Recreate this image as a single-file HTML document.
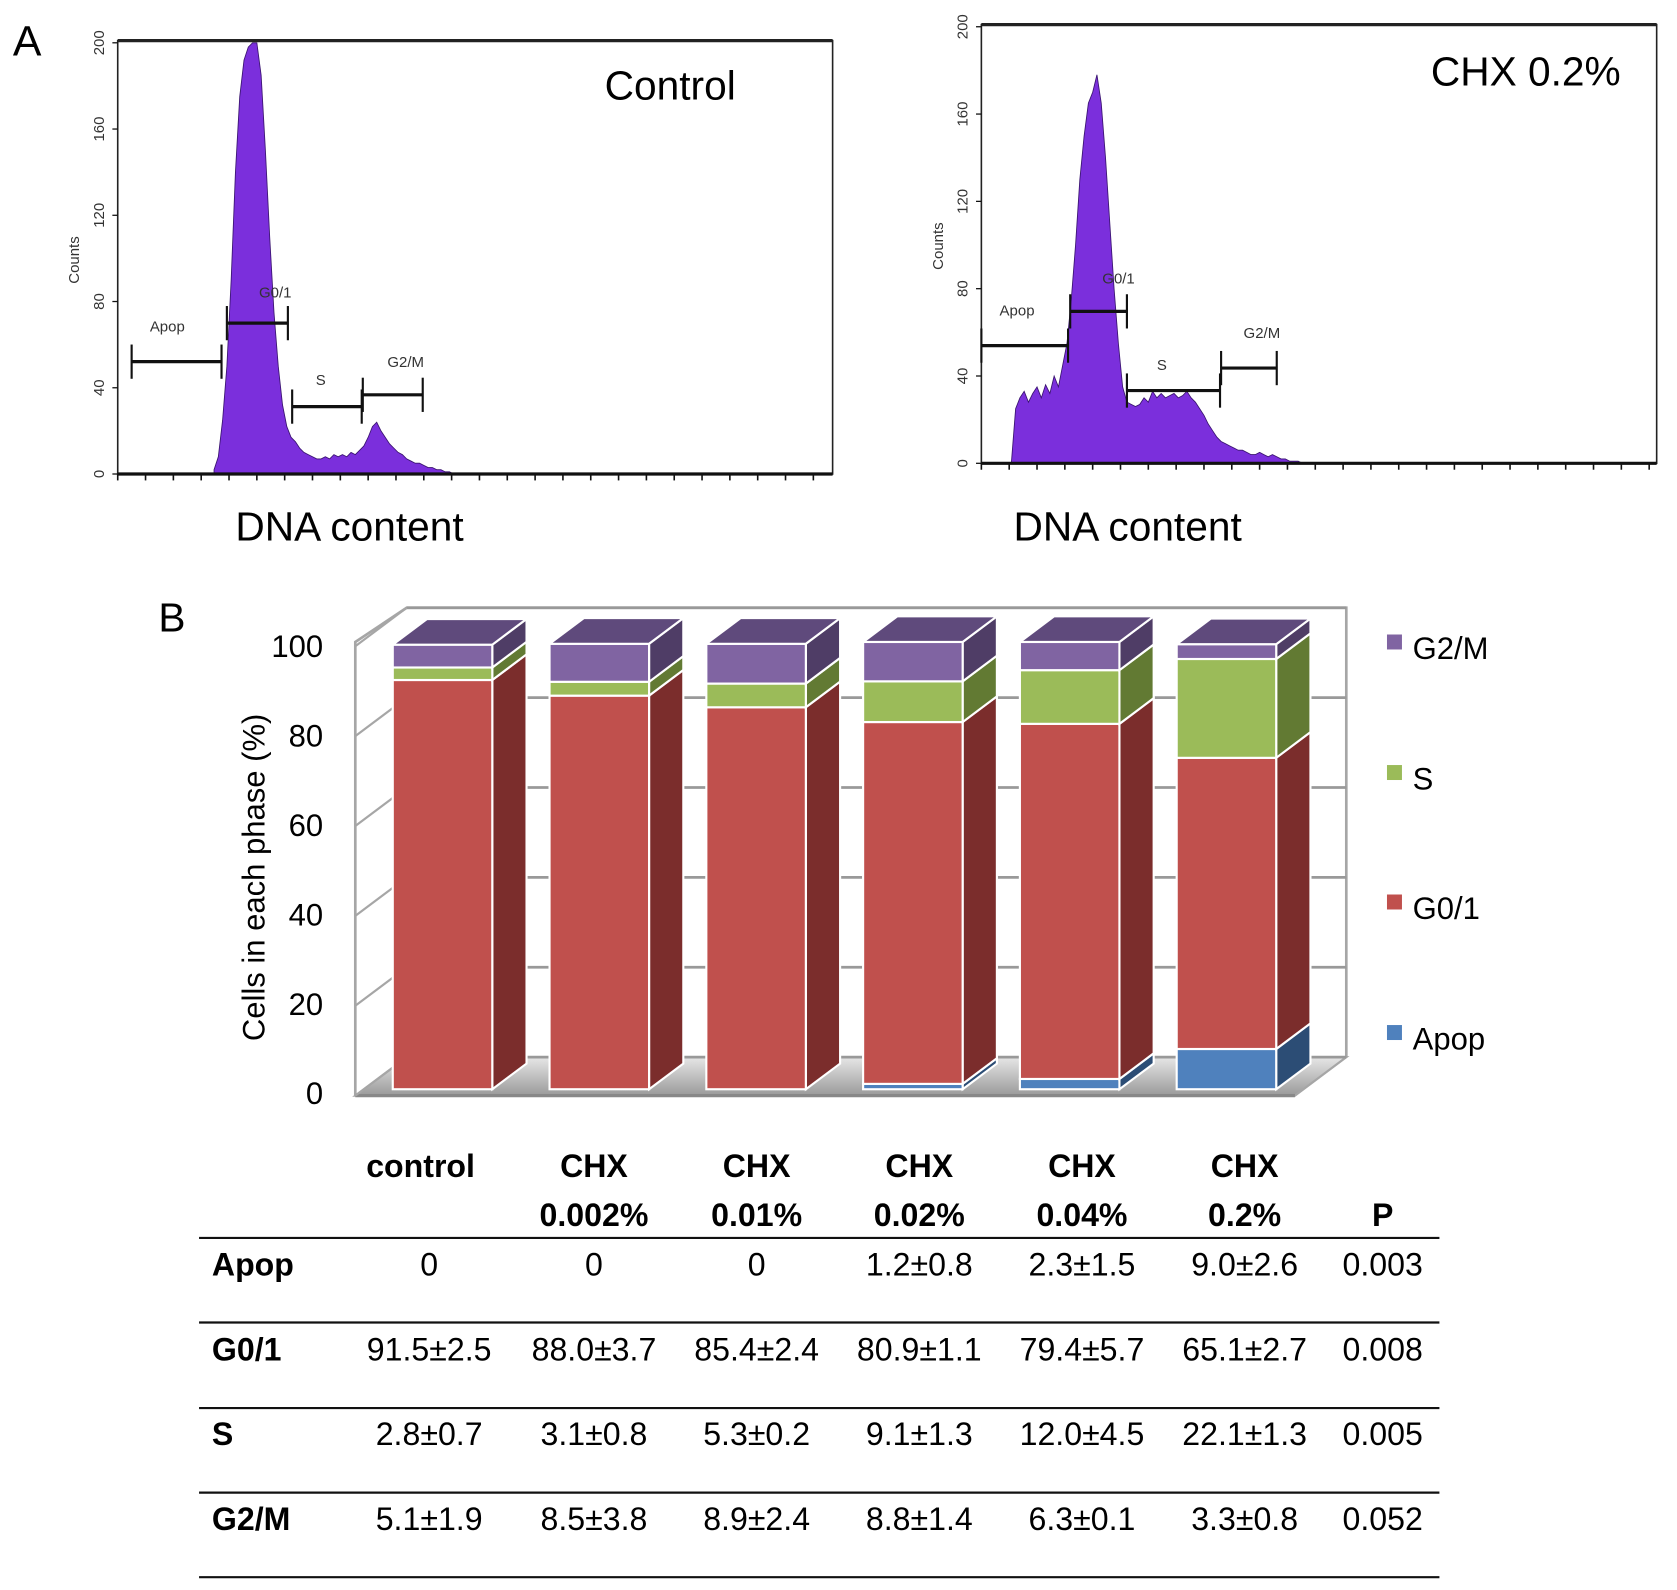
<!DOCTYPE html>
<html><head><meta charset="utf-8"><style>
html,body{margin:0;padding:0;background:#fff}
svg{display:block}
text{font-family:"Liberation Sans Narrow","Liberation Sans",sans-serif}
.ax{font-family:"Liberation Sans",sans-serif;font-size:14px;fill:#333}
</style></head><body>
<svg id="fig" width="1677" height="1590" viewBox="0 0 1567 1486" preserveAspectRatio="none">
<g id="panelA">
<text x="12" y="52" font-size="40" font-family="Liberation Sans">A</text>
</g>
<g id="panelB">
<text x="148" y="590" font-size="38" font-family="Liberation Sans">B</text>
</g>
<g id="table"></g>
</svg>
<script>
// ---- Histogram data (counts) ----
const ctrlCounts=[2,8,25,50,90,140,175,192,198,200,200,185,150,110,75,50,32,22,17,15,12,10,9,8,7,7,8,7,9,8,9,8,10,9,11,13,17,22,24,20,17,14,12,10,9,7,6,5,5,4,3,3,2,2,1,1,0];
const chxCounts=[0,25,30,33,28,32,35,30,36,32,40,35,45,55,75,100,130,150,165,170,178,165,140,110,80,55,35,28,27,26,27,30,28,33,30,32,30,31,32,30,31,33,30,28,25,22,18,15,12,10,9,8,7,6,6,5,4,4,5,4,3,4,3,2,2,1,1,1,0];
const yTicksA=[0,40,80,120,160,200];
// ---- Bar chart data ----
const groups=["control","CHX 0.002%","CHX 0.01%","CHX 0.02%","CHX 0.04%","CHX 0.2%"];
const apop=[0,0,0,1.2,2.3,9.0];
const g01=[91.5,88.0,85.4,80.9,79.4,65.1];
const sPh=[2.8,3.1,5.3,9.1,12.0,22.1];
const g2m=[5.1,8.5,8.9,8.8,6.3,3.3];
const yTicksB=[0,20,40,60,80,100];
// ---- Table text ----
const rowNames=["Apop","G0/1","S","G2/M"];
const apopTxt=["0","0","0","1.2±0.8","2.3±1.5","9.0±2.6","0.003"];
const g01Txt=["91.5±2.5","88.0±3.7","85.4±2.4","80.9±1.1","79.4±5.7","65.1±2.7","0.008"];
const sTxt=["2.8±0.7","3.1±0.8","5.3±0.2","9.1±1.3","12.0±4.5","22.1±1.3","0.005"];
const g2mTxt=["5.1±1.9","8.5±3.8","8.9±2.4","8.8±1.4","6.3±0.1","3.3±0.8","0.052"];

const NS="http://www.w3.org/2000/svg";
function mk(tag,attrs,parent){const e=document.createElementNS(NS,tag);for(const k in attrs)e.setAttribute(k,attrs[k]);parent.appendChild(e);return e;}
const A=document.getElementById('panelA');

function histo(cfg,counts){
  const g=mk('g',{},A);
  
  
  const y=v=>cfg.y0-(v/200)*(cfg.y0-cfg.y200);
  const x=i=>cfg.hx0+i*4;
  const frame=mk('rect',{x:cfg.bx0,y:cfg.by0,width:cfg.bx1-cfg.bx0,height:cfg.y0-cfg.by0,fill:'none',stroke:'#222','stroke-width':1.5},g);
  
  
  mk('line',{x1:cfg.bx0,y1:cfg.by0,x2:cfg.bx1,y2:cfg.by0,stroke:'#222','stroke-width':3},g);
  let d=`M${x(0)},${cfg.y0}`;
  counts.forEach((c,i)=>{d+=` L${x(i)},${y(c)}`;});
  d+=` L${x(counts.length-1)},${cfg.y0} Z`;
  const p=mk('path',{d:d,fill:'#7b2fdc',stroke:'#3a1470','stroke-width':0.8},g);
  
  
  mk('line',{x1:cfg.bx0,y1:cfg.y0,x2:cfg.bx1,y2:cfg.y0,stroke:'#111','stroke-width':3},g);
  for(let tx=cfg.bx0;tx<=cfg.bx1;tx+=26){mk('line',{x1:tx,y1:cfg.y0,x2:tx,y2:cfg.y0+6,stroke:'#111','stroke-width':1.5},g);}
  yTicksA.forEach(t=>{
    mk('line',{x1:cfg.bx0-5,y1:y(t),x2:cfg.bx0,y2:y(t),stroke:'#111','stroke-width':1.2},g);
    const tt=mk('text',{x:0,y:0,class:'ax','text-anchor':'middle',transform:`translate(${cfg.bx0-13},${y(t)}) rotate(-90)`},g);
    tt.textContent=t;
    
    
  });
  const cl=mk('text',{x:0,y:0,class:'ax','text-anchor':'middle',transform:`translate(${cfg.bx0-36},${cfg.countsY}) rotate(-90)`},g);
  cl.textContent='Counts';
  
  
  cfg.gates.forEach(gt=>{
    mk('line',{x1:gt[0],y1:gt[2],x2:gt[1],y2:gt[2],stroke:'#111','stroke-width':3},g);
    mk('line',{x1:gt[0],y1:gt[2]-16,x2:gt[0],y2:gt[2]+16,stroke:'#111','stroke-width':2},g);
    mk('line',{x1:gt[1],y1:gt[2]-16,x2:gt[1],y2:gt[2]+16,stroke:'#111','stroke-width':2},g);
    const l=mk('text',{x:gt[3],y:gt[4],class:'ax','font-size':16},g);
    l.textContent=gt[5];
    
    
  });
  const ti=mk('text',{x:cfg.tx,y:cfg.ty,'font-size':38,fill:'#000'},g);
  ti.textContent=cfg.title;
  
  
  const xl=mk('text',{x:cfg.xlx,y:505,'font-size':38,fill:'#000'},g);
  xl.textContent='DNA content';
  
  
}
histo({name:'control-histogram',bx0:110,bx1:778,by0:38,y0:443,y200:40,hx0:200,countsY:243,
  gates:[[123,207,338,140,310,'Apop'],[212,269,302,242,278,'G0/1'],[273,338,380,295,360,'S'],[339,395,369,362,343,'G2/M']],
  title:'Control',tx:565,ty:93,xlx:220},ctrlCounts);
histo({name:'chx-histogram',bx0:917,bx1:1548,by0:23,y0:433,y200:25,hx0:945,countsY:230,
  gates:[[917,998,323,934,295,'Apop'],[1000,1053,291,1030,265,'G0/1'],[1053,1140,365,1081,346,'S'],[1141,1193,344,1162,316,'G2/M']],
  title:'CHX 0.2%',tx:1337,ty:80,xlx:947},chxCounts);

// ---- 3D stacked bar chart ----
const B=document.getElementById('panelB');
const fy0=1018,fy100=600,dx=32,dy=-24;
const yf=v=>fy0-(v/100)*(fy0-fy100);
const bx=i=>367+i*146.5, bw=93;
const wall=mk('path',{d:`M332,1024 L332,600 L380,568 L1258,568 L1258,988`,fill:'none',stroke:'#a6a6a6','stroke-width':2.5},B);


const floorG=mk('linearGradient',{id:'fl',x1:0,y1:0,x2:0,y2:1},mk('defs',{},B));
mk('stop',{offset:0,'stop-color':'#e6e6e6'},floorG);mk('stop',{offset:1,'stop-color':'#9a9a9a'},floorG);
const fl=mk('path',{d:`M332,1024 L1210,1024 L1258,988 L380,988 Z`,fill:'url(#fl)',stroke:'#a6a6a6','stroke-width':2},B);


mk('line',{x1:332,y1:1024,x2:1210,y2:1024,stroke:'#888','stroke-width':3},B);
yTicksB.forEach(t=>{
  const by=988-(t/100)*420;
  const gl=mk('line',{x1:380,y1:by,x2:1258,y2:by,stroke:'#999','stroke-width':2.5},B);
  
  
  mk('line',{x1:332,y1:by+36,x2:380,y2:by,stroke:'#a6a6a6','stroke-width':2},B);
  const lb=mk('text',{x:302,y:yf(t)+14,'text-anchor':'end','font-size':29,'font-family':'Liberation Sans'},B);
  lb.textContent=t;
  
  
});
const yt=mk('text',{x:0,y:0,'text-anchor':'middle','font-size':29,transform:'translate(247,820) rotate(-90)'},B);
yt.textContent='Cells in each phase (%)';


const series=[{v:apop,f:'#4f81bd',s:'#2c4d75',n:'Apop'},{v:g01,f:'#c0504d',s:'#7b2d2c',n:'G0/1'},{v:sPh,f:'#9bbb59',s:'#627a33',n:'S'},{v:g2m,f:'#8064a2',s:'#4f3d66',n:'G2/M'}];
groups.forEach((gname,i)=>{
  const g=mk('g',{},B);
  
  
  let base=0;
  series.forEach(s=>{
    const v=s.v[i]; if(v<=0)return;
    const x0=bx(i),x1=x0+bw,yb=yf(base),ytp=yf(base+v);
    const side=mk('path',{d:`M${x1},${yb} L${x1+dx},${yb+dy} L${x1+dx},${ytp+dy} L${x1},${ytp} Z`,fill:s.s,stroke:'#fff','stroke-width':2},g);
    
    
    const fr=mk('rect',{x:x0,y:ytp,width:bw,height:yb-ytp,fill:s.f,stroke:'#fff','stroke-width':2},g);
    
    
    base+=v;
  });
  const x0=bx(i),ytp=yf(base);
  const top=mk('path',{d:`M${x0},${ytp} L${x0+dx},${ytp+dy} L${x0+bw+dx},${ytp+dy} L${x0+bw},${ytp} Z`,fill:'#5f4a7c',stroke:'#fff','stroke-width':2},g);
  
  
});
const legY=[971,849,728,606];
series.forEach((s,k)=>{
  const g=mk('g',{},B);
  
  
  mk('rect',{x:1296,y:legY[k]-13,width:14,height:14,fill:s.f},g);
  const t=mk('text',{x:1320,y:legY[k]+10,'font-size':29},g);
  t.textContent=s.n;
});

// ---- table ----
const T=document.getElementById('table');
const colX=[401,555,707,859,1011,1163,1292];
const hdr1=["control","CHX","CHX","CHX","CHX","CHX",""];
const hdr2=["","0.002%","0.01%","0.02%","0.04%","0.2%","P"];
hdr1.forEach((h,c)=>{const t=mk('text',{x:colX[c]-8*(c==0),y:1100,'text-anchor':'middle','font-size':30,'font-weight':'bold'},T);t.textContent=h;});
hdr2.forEach((h,c)=>{const t=mk('text',{x:colX[c],y:1146,'text-anchor':'middle','font-size':30,'font-weight':'bold'},T);t.textContent=h;});
[1157,1236,1316,1395,1474].forEach(ly=>{const l=mk('line',{x1:186,y1:ly,x2:1345,y2:ly,stroke:'#111','stroke-width':2},T);});
const rows=[apopTxt,g01Txt,sTxt,g2mTxt];
rows.forEach((r,k)=>{
  const yy=1192+k*79.3;
  const n=mk('text',{x:198,y:yy,'font-size':30,'font-weight':'bold'},T);
  n.textContent=rowNames[k];
  
  
  r.forEach((v,c)=>{const t=mk('text',{x:colX[c],y:yy,'text-anchor':'middle','font-size':30},T);t.textContent=v;});
});
</script>
</body></html>
